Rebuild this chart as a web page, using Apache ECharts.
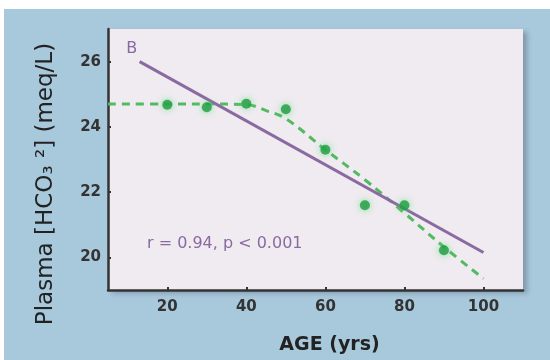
<!DOCTYPE html>
<html>
<head>
<meta charset="utf-8">
<script src="https://cdn.jsdelivr.net/npm/echarts@6/dist/echarts.min.js"></script>
<style>
  html, body { margin: 0; padding: 0; background: #ffffff; }
  #chart { width: 550px; height: 360px; }
</style>
</head>
<body>
<div id="chart"></div>
<script>
// measured points
var ages = [20, 30, 40, 50, 60, 70, 80, 90];
var hco3 = [24.68, 24.6, 24.71, 24.54, 23.3, 21.6, 21.6, 20.22];

// dashed curve fit
var fitAges = [5, 20, 30, 40, 45, 50, 60, 70, 80, 90, 100];
var fitVals = [24.7, 24.7, 24.7, 24.68, 24.5, 24.25, 23.3, 22.38, 21.36, 20.32, 19.35];

// regression line
var regAges = [13, 100];
var regVals = [26.0, 20.15];

var xTicks = [20, 40, 60, 80, 100];
var yTicks = [20, 22, 24, 26];

var purple = "#8a6aa1";
var tickFont = { color: "#333", fontSize: 15, fontWeight: "bold", fontFamily: "DejaVu Sans" };

var pts = ages.map(function (a, i) { return [a, hco3[i]]; });
var fit = fitAges.map(function (a, i) { return [a, fitVals[i]]; });
var reg = regAges.map(function (a, i) {
  var item = { value: [a, regVals[i]] };
  if (i === 0) {
    item.label = {
      show: true, formatter: "B", position: "top", offset: [-8, 0],
      color: purple, fontSize: 16, fontFamily: "DejaVu Sans"
    };
  }
  return item;
});

var option = {
  backgroundColor: "#ffffff",
  animation: false,
  graphic: [
    { type: "rect", z: -100, shape: { x: 4, y: 9, width: 546, height: 351 }, style: { fill: "#a8c8dc" } },
    {
      type: "text", left: 147, top: 236,
      style: { text: "r = 0.94, p < 0.001", fill: purple, font: "16px 'DejaVu Sans'" }
    },
    {
      type: "text", x: 46, y: 184, rotation: Math.PI / 2,
      style: {
        text: "Plasma [HCO\u2083 \u00b2] (meq/L)", fill: "#222",
        font: "23px 'DejaVu Sans'", align: "center", verticalAlign: "middle"
      }
    }
  ],
  grid: {
    left: 108, right: 27, top: 29, bottom: 66,
    show: true, backgroundColor: "#efebf0", borderWidth: 0,
    shadowColor: "rgba(40,40,60,0.3)", shadowBlur: 5, shadowOffsetX: 4, shadowOffsetY: 3
  },
  xAxis: {
    type: "value", min: 5, max: 110,
    name: "AGE (yrs)", nameLocation: "middle", nameGap: 46,
    nameTextStyle: {
      color: "#222", fontSize: 19, fontWeight: "bold", fontFamily: "DejaVu Sans",
      padding: [0, 0, 0, 28]
    },
    axisLine: { onZero: false, lineStyle: { color: "#333", width: 2.5 } },
    axisTick: { inside: true, length: 3, customValues: xTicks, lineStyle: { color: "#333", width: 2 } },
    axisLabel: Object.assign({ customValues: xTicks, margin: 10 }, tickFont),
    splitLine: { show: false }
  },
  yAxis: {
    type: "value", min: 19, max: 27,
    axisLine: { onZero: false, lineStyle: { color: "#333", width: 2.5 } },
    axisTick: { inside: true, length: 3, customValues: yTicks, lineStyle: { color: "#333", width: 2 } },
    axisLabel: Object.assign({ customValues: yTicks, margin: 7 }, tickFont),
    splitLine: { show: false }
  },
  series: [
    {
      type: "line", data: reg, symbol: "circle", symbolSize: 0,
      lineStyle: { color: purple, width: 3 },
      z: 3
    },
    {
      type: "line", data: fit, symbol: "none", smooth: 0.4,
      lineStyle: { color: "#52bb62", width: 3, type: [8, 6] },
      z: 2
    },
    {
      type: "scatter", data: pts, symbolSize: 10,
      itemStyle: { color: "#1f9b40", shadowBlur: 6, shadowColor: "rgba(90,220,120,0.9)" },
      z: 4
    }
  ]
};

var myChart = echarts.init(document.getElementById("chart"));
option && myChart.setOption(option);
</script>
</body>
</html>
